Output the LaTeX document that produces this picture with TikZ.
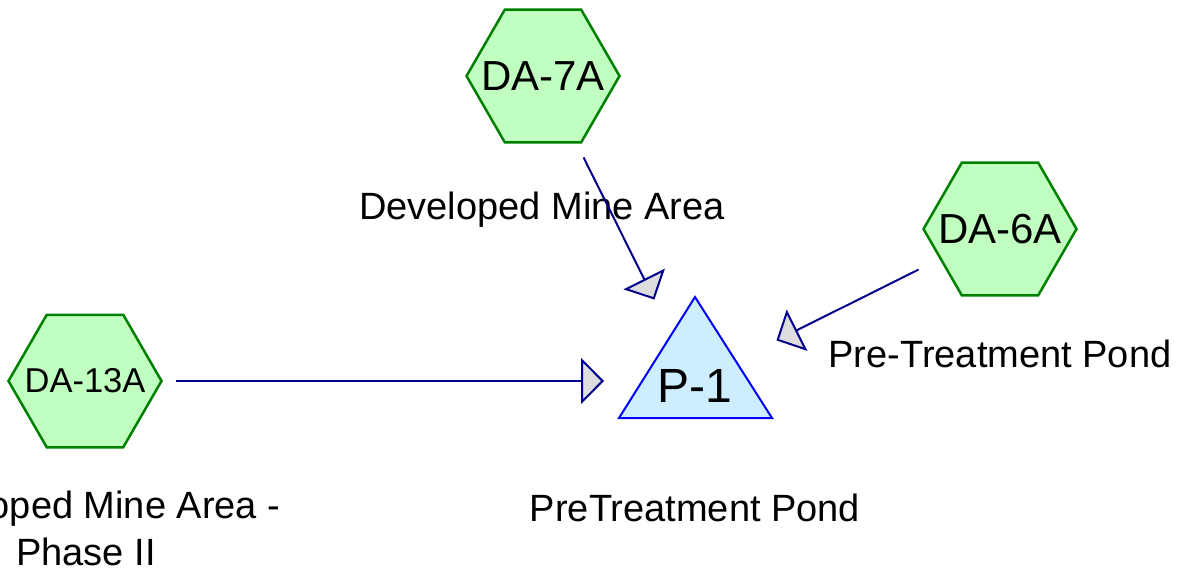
\documentclass[tikz,border=0pt]{standalone}
\usepackage{fontspec}
\setmainfont{Liberation Sans}
\usetikzlibrary{shapes.geometric,arrows.meta}
\definecolor{hexfill}{RGB}{192,255,192}
\definecolor{hexdraw}{RGB}{0,128,0}
\definecolor{trifill}{RGB}{206,238,255}
\definecolor{tridraw}{RGB}{0,0,255}
\definecolor{linknavy}{RGB}{0,0,139}
\definecolor{tipgray}{RGB}{221,221,221}
\begin{document}
\begin{tikzpicture}[x=1pt,y=-1pt,
  hexnode/.style={regular polygon, regular polygon sides=6, minimum size=153pt,
    inner sep=0pt, draw=hexdraw, fill=hexfill, line width=2.5pt},
  big/.style={font=\fontsize{42}{48}\selectfont},
  link/.style={draw=linknavy, line width=2pt, shorten <=91pt, shorten >=91pt,
    -{Triangle[length=23pt,width=46pt,fill=tipgray]}},
  lbl/.style={font=\fontsize{38}{47}\selectfont, anchor=base, align=center, inner sep=0pt},
]
\clip (0,0) rectangle (1188,575);
% shapes
\node[hexnode, label={[big]center:DA-7A}] (h7) at (543,76) {};
\node[hexnode, label={[big]center:DA-6A}] (h6) at (1000,229) {};
\node[hexnode, label={[font=\fontsize{34.5}{40}\selectfont]center:DA-13A}] (h13) at (85,381) {};
\draw[fill=trifill, draw=tridraw, line width=2pt] (695,297) -- (772,418) -- (619,418) -- cycle;
\node[font=\fontsize{48}{54}\selectfont, inner sep=0pt, text height=42pt, text depth=0pt] (p1) at (695,381) {P-1};
% labels
\node[lbl] (l7) at (542,219) {Developed Mine Area};
\node[lbl] (l6) at (1000,367) {Pre-Treatment Pond};
\node[lbl] (lp) at (695,521) {PreTreatment Pond};
\node[lbl] (l13) at (86,565) {Developed Mine Area -\\Phase II};
% connectors
\draw[link] (h7.center) -- (p1.center);
\draw[link] (h6.center) -- (p1.center);
\draw[link] (h13.center) -- (p1.center);
\end{tikzpicture}
\end{document}
